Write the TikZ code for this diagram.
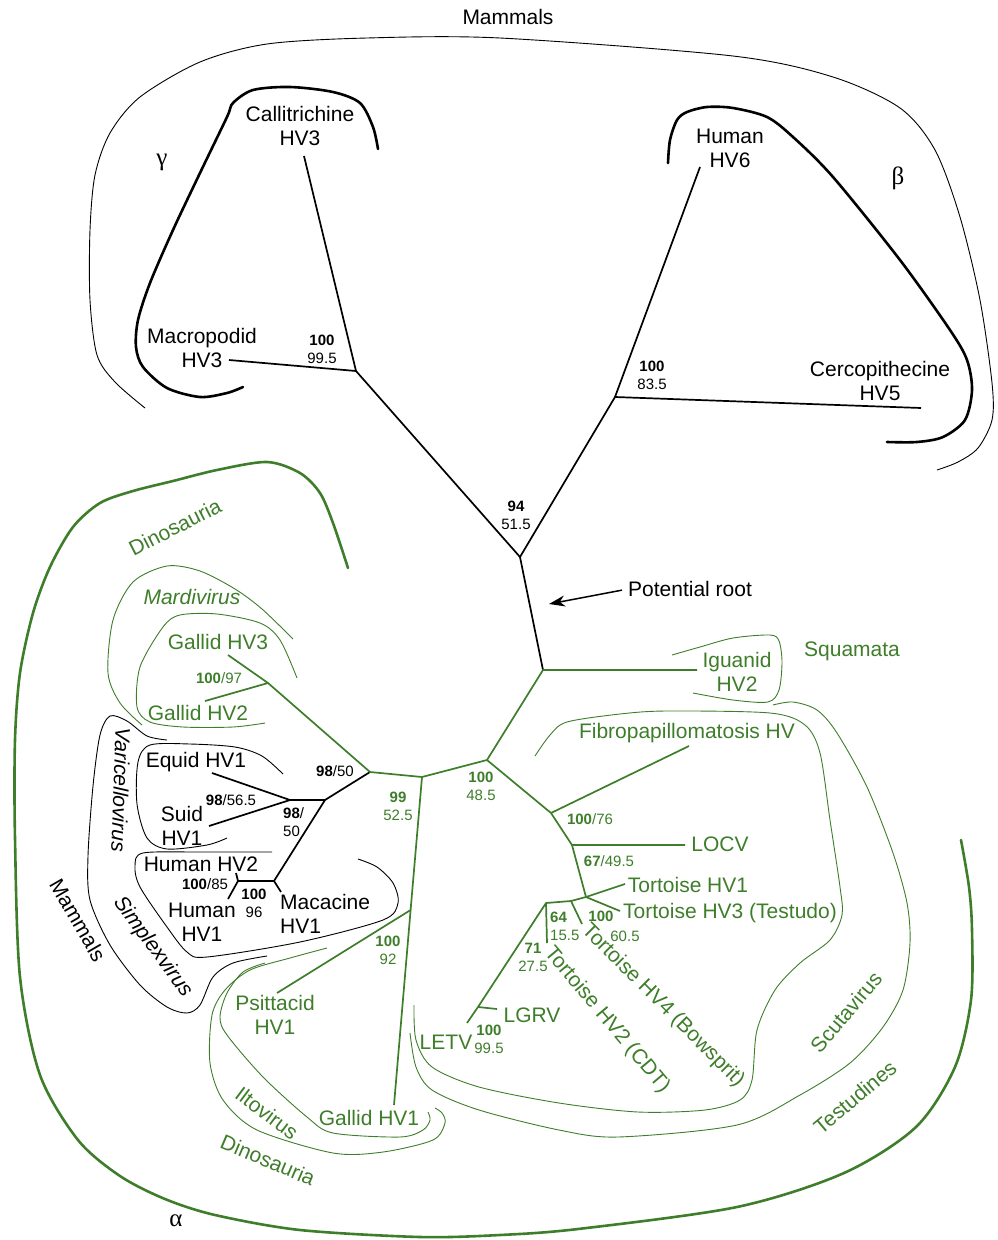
\documentclass[tikz,border=0pt]{standalone}
\usepackage{fontspec}
\setmainfont{Liberation Sans}
\newfontfamily\grk{Liberation Serif}
\usetikzlibrary{arrows.meta}
\definecolor{sauria}{RGB}{62,125,42}
\begin{document}
\begin{tikzpicture}[x=1pt,y=-1pt,
        every node/.style={font=\fontsize{21}{24}\selectfont,inner sep=0pt,align=center},
        branch/.style={line width=1.7pt,line join=round},
        gbranch/.style={branch,draw=sauria},
        hull/.style={line width=2.6pt,line cap=round},
        ghull/.style={hull,draw=sauria},
        rim/.style={line width=0.9pt},
        grim/.style={rim,draw=sauria},
        boot/.style={font=\fontsize{15}{18}\selectfont},
        gtxt/.style={text=sauria},
        clade/.style={font=\fontsize{21}{24}\selectfont\itshape},
        greek/.style={font=\fontsize{25}{28}\grk}]
        \useasboundingbox (0,0) rectangle (998,1240);
        % Tree points
        \coordinate (gam) at (356,371);
        \coordinate (bet) at (615,397);
        \coordinate (mam) at (520,557);
        \coordinate (rt) at (543,670);
        \coordinate (callT) at (304,156);
        \coordinate (macrT) at (229,360);
        \coordinate (hv6T) at (700,167);
        \coordinate (cercT) at (921,408);
        \coordinate (igT) at (697,670);
        \coordinate (tes) at (487,760);
        \coordinate (din) at (422,777);
        \coordinate (alp) at (370,772);
        \coordinate (mar) at (268,683);
        \coordinate (g3T) at (228,655);
        \coordinate (g2T) at (205,701);
        \coordinate (vs) at (325,800);
        \coordinate (var) at (290,800);
        \coordinate (eqT) at (212,773);
        \coordinate (suT) at (209,826);
        \coordinate (smp) at (274,881);
        \coordinate (hh) at (238,881);
        \coordinate (h2T) at (236,873);
        \coordinate (h1T) at (228,899);
        \coordinate (mcT) at (281,892);
        \coordinate (fib) at (551,813);
        \coordinate (fbT) at (689,746);
        \coordinate (loc) at (572,845);
        \coordinate (lcT) at (685,845);
        \coordinate (tr1) at (586,897);
        \coordinate (t1T) at (625,884);
        \coordinate (t3T) at (620,911);
        \coordinate (tr4) at (571,901);
        \coordinate (t4T) at (582,924);
        \coordinate (tr2) at (546,903);
        \coordinate (t2T) at (547,943);
        \coordinate (lgr) at (478,1007);
        \coordinate (lgT) at (497,1009);
        \coordinate (leT) at (467,1023);
        \coordinate (ilt) at (410.6,910);
        \coordinate (psT) at (277,993);
        \coordinate (gaT) at (394,1105);
        \coordinate (arT) at (549,604);
        % Mammal branches
        \draw[branch] (callT) -- (gam) -- (macrT);
        \draw[branch] (hv6T) -- (bet) -- (cercT);
        \draw[branch] (gam) -- (mam) -- (bet);
        \draw[branch] (mam) -- (rt);
        \draw[branch] (alp) -- (vs) -- (var);
        \draw[branch] (eqT) -- (var) -- (suT);
        \draw[branch] (vs) -- (smp) -- (hh);
        \draw[branch] (h2T) -- (hh) -- (h1T);
        \draw[branch] (smp) -- (mcT);
        % Reptile and bird branches
        \draw[gbranch] (igT) -- (rt) -- (tes) -- (din) -- (alp) -- (mar);
        \draw[gbranch] (g3T) -- (mar) -- (g2T);
        \draw[gbranch] (din) -- (ilt) -- (gaT);
        \draw[gbranch] (ilt) -- (psT);
        \draw[gbranch] (tes) -- (fib) -- (fbT);
        \draw[gbranch] (fib) -- (loc) -- (lcT);
        \draw[gbranch] (loc) -- (tr1) -- (t1T);
        \draw[gbranch] (tr1) -- (t3T);
        \draw[gbranch] (tr1) -- (tr4) -- (t4T);
        \draw[gbranch] (tr4) -- (tr2) -- (t2T);
        \draw[gbranch] (tr2) -- (lgr) -- (lgT);
        \draw[gbranch] (lgr) -- (leT);
        % Black outlines
        \draw[hull] plot[smooth] coordinates {(378,149) (373,127) (360,103) (333,92) (290,87) (253,90) (233,103) (227,117) (200,173) (173,230) (150,283) (138,320) (136,347) (143,367) (167,388) (200,397) (227,393) (243,387)};
        \draw[hull] plot[smooth] coordinates {(668,163) (670,140) (677,120) (687,112) (707,107) (733,108) (767,117) (793,137) (833,177) (900,260) (950,330) (967,360) (972,390) (965,420) (943,437) (917,442) (887,442)};
        \draw[rim] plot[smooth] coordinates {(145,408) (115,382) (97,355) (90,300) (90,230) (95,175) (110,133) (140,97) (200,62) (267,44) (367,38) (500,38) (733,56) (833,77) (900,108) (935,150) (960,217) (980,300) (992,383) (992,420) (978,448) (958,462) (937,470)};
        \draw[rim] plot[smooth] coordinates {(167,740) (147,736) (127,721) (110,716) (100,735) (93,786) (88,856) (90,900) (110,945) (140,985) (167,1007) (187,1013) (200,1005) (213,977) (233,963) (267,956)};
        \draw[rim] plot[smooth] coordinates {(283,774) (262,756) (235,747) (190,744) (150,745) (138,762) (137,804) (147,838) (167,849) (207,845) (227,838)};
        \draw[rim] plot[smooth] coordinates {(272,852) (200,852) (143,853) (135,866) (140,887) (167,927) (187,952) (207,957) (300,942) (383,920) (398,903) (393,883) (377,867) (358,859)};
        % Green outlines
        \draw[ghull] plot[smooth] coordinates {(348,568) (333,523) (320,493) (300,473) (267,462) (217,470) (173,481) (133,491) (100,503) (73,527) (50,567) (33,613) (20,673) (15,740) (15,838) (20,977) (40,1075) (78,1140) (120,1176) (165,1199) (215,1215) (300,1230) (420,1237) (500,1235) (578,1229) (737,1207) (844,1173) (916,1127) (955,1067) (971,1000) (972,930) (969,887) (961,840)};
        \draw[grim] plot[smooth] coordinates {(293,639) (262,609) (235,589) (200,571) (167,566) (133,582) (113,620) (108,673) (120,703) (142,725)};
        \draw[grim] plot[smooth] coordinates {(297,678) (280,640) (260,623) (217,614) (180,615) (163,627) (140,667) (137,707) (150,722) (183,727) (233,727) (265,723)};
        \draw[grim] plot[smooth] coordinates {(327,948) (290,958) (250,970) (225,990) (212,1015) (210,1063) (223,1100) (257,1130) (333,1153) (383,1152) (433,1140) (445,1123) (442,1113) (435,1108)};
        \draw[grim] plot[smooth] coordinates {(265,963) (243,972) (227,993) (220,1017) (227,1035) (263,1077) (307,1117) (333,1133) (400,1137) (423,1130) (430,1120) (428,1112)};
        \draw[grim] plot[smooth] coordinates {(672,655) (700,647) (733,638) (770,635) (779,641) (782,662) (779,690) (768,702) (733,700) (693,693)};
        \draw[grim] plot[smooth] coordinates {(535,756) (550,735) (567,722) (620,714) (667,711) (770,713) (805,725) (820,753) (830,820) (840,887) (842,915) (830,940) (800,963) (775,990) (757,1030) (752,1080) (740,1100) (705,1110) (638,1112) (559,1103) (479,1087) (432,1067) (416,1040) (414,1005)};
        \draw[grim] plot[smooth] coordinates {(773,705) (793,702) (817,710) (837,733) (867,787) (893,853) (907,903) (910,943) (903,990) (883,1027) (850,1063) (800,1095) (737,1125) (618,1137) (559,1130) (479,1110) (432,1090) (416,1067) (410,1033)};
        % Black labels
        \node (tMam) at (508,17) {Mammals};
        \node (lCal) at (300,126) {Callitrichine\\HV3};
        \node (lMac) at (202,348) {Macropodid\\HV3};
        \node[boot] (bGam) at (322,349) {\textbf{100}\\99.5};
        \node[greek] (lGam) at (162,162) {γ};
        \node (lHv6) at (730,148) {Human\\HV6};
        \node[greek] (lBet) at (898,178) {β};
        \node (lCer) at (880,381) {Cercopithecine\\HV5};
        \node[boot] (bBet) at (652,375) {\textbf{100}\\83.5};
        \node[boot] (bMam) at (516,515) {\textbf{94}\\51.5};
        \node (lRoot) at (690,589) {Potential root};
        \draw[line width=1.5pt,-{Stealth[length=16pt,width=11pt,inset=5pt]},shorten <=6pt] (lRoot.west) -- (arT);
        \node (lEq) at (196,762) {Equid HV1};
        \node (lSu) at (182,826) {Suid\\HV1};
        \node[boot] (bVar) at (231,800) {\textbf{98}/56.5};
        \node[boot] (bAlp) at (335,771) {\textbf{98}/50};
        \node[boot,align=left,anchor=west] (bVs) at (283,822) {\textbf{98}/\\50};
        \node (lH2) at (201,864) {Human HV2};
        \node[boot] (bHh) at (205,884) {\textbf{100}/85};
        \node[boot] (bSmp) at (254,903) {\textbf{100}\\96};
        \node (lH1) at (202,922) {Human\\HV1};
        \node[align=left,anchor=west] (lMc) at (280,914) {Macacine\\HV1};
        \node[clade,rotate=-92] (lVar) at (121,790) {Varicellovirus};
        \node[clade,rotate=-54] (lSim) at (153,947) {Simplexvirus};
        \node[rotate=-60] (lMam2) at (78,920) {Mammals};
        \node[greek] (lAlp) at (176,1221) {α};
        % Green labels
        \node[gtxt,rotate=27] (lDin) at (175,527) {Dinosauria};
        \node[gtxt,clade] (lMar) at (192,597) {Mardivirus};
        \node[gtxt] (lG3) at (218,642) {Gallid HV3};
        \node[gtxt,boot] (bMar) at (219,678) {\textbf{100}/97};
        \node[gtxt] (lG2) at (198,713) {Gallid HV2};
        \node[gtxt,boot] (bDin) at (398,806) {\textbf{99}\\52.5};
        \node[gtxt,boot] (bTes) at (481,786) {\textbf{100}\\48.5};
        \node[gtxt] (lIg) at (737,672) {Iguanid\\HV2};
        \node[gtxt] (lSq) at (852,651) {Squamata};
        \node[gtxt] (lFib) at (687,733) {Fibropapillomatosis HV};
        \node[gtxt,boot] (bFib) at (590,819) {\textbf{100}/76};
        \node[gtxt] (lLoc) at (720,844) {LOCV};
        \node[gtxt,boot] (bLoc) at (609,861) {\textbf{67}/49.5};
        \node[gtxt] (lT1) at (688,885) {Tortoise HV1};
        \node[gtxt] (lT3) at (730,913) {Tortoise HV3 (Testudo)};
        \node[gtxt,boot,align=left,anchor=west] (bT4) at (550,926) {\textbf{64}\\15.5};
        \node[gtxt,boot] (bT3a) at (601,916) {\textbf{100}};
        \node[gtxt,boot] (bT3b) at (625,936) {60.5};
        \node[gtxt,boot] (bT2) at (533,957) {\textbf{71}\\27.5};
        \node[gtxt,rotate=-50] (lT2) at (607,1020) {Tortoise HV2 (CDT)};
        \node[gtxt,rotate=-45] (lT4) at (663,1006) {Tortoise HV4 (Bowsprit)};
        \node[gtxt] (lLg) at (532,1015) {LGRV};
        \node[gtxt] (lLe) at (446,1042) {LETV};
        \node[gtxt,boot] (bLe) at (489,1039) {\textbf{100}\\99.5};
        \node[gtxt,boot] (bIlt) at (388,950) {\textbf{100}\\92};
        \node[gtxt] (lPs) at (275,1015) {Psittacid\\HV1};
        \node[gtxt] (lGa) at (369,1118) {Gallid HV1};
        \node[gtxt,rotate=-37] (lIlt) at (267,1113) {Iltovirus};
        \node[gtxt,rotate=-23] (lDin2) at (268,1160) {Dinosauria};
        \node[gtxt,rotate=50] (lScu) at (846,1012) {Scutavirus};
        \node[gtxt,rotate=40] (lTes) at (855,1097) {Testudines};
    \end{tikzpicture}
\end{document}
